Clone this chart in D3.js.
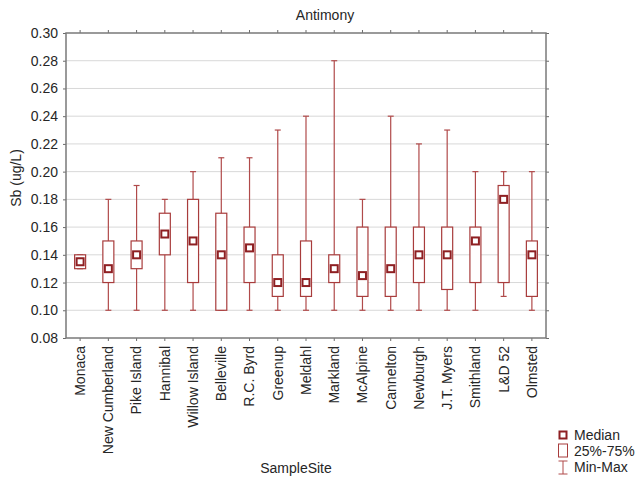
<!DOCTYPE html>
<html>
<head>
<meta charset="utf-8">
<script src="https://cdn.jsdelivr.net/npm/d3@7"></script>
<style>
  body { margin: 0; background: #fff; }
  text { font-family: "Liberation Sans", Arial, sans-serif; fill: #262626; }
</style>
</head>
<body>
<svg id="chart" width="635" height="480"></svg>
<script>
const sites = ["Monaca","New Cumberland","Pike Island","Hannibal","Willow Island","Belleville","R.C. Byrd","Greenup","Meldahl","Markland","McAlpine","Cannelton","Newburgh","J.T. Myers","Smithland","L&D 52","Olmsted"];
const medians = [0.135,0.13,0.14,0.155,0.15,0.14,0.145,0.12,0.12,0.13,0.125,0.13,0.14,0.14,0.15,0.18,0.14];
const q1s     = [0.13,0.12,0.13,0.14,0.12,0.10,0.12,0.11,0.11,0.12,0.11,0.11,0.12,0.115,0.12,0.12,0.11];
const q3s     = [0.14,0.15,0.15,0.17,0.18,0.17,0.16,0.14,0.15,0.14,0.16,0.16,0.16,0.16,0.16,0.19,0.15];
const mins    = [0.13,0.10,0.10,0.10,0.10,0.10,0.10,0.10,0.10,0.10,0.10,0.10,0.10,0.10,0.10,0.11,0.10];
const maxs    = [0.14,0.18,0.19,0.18,0.20,0.21,0.21,0.23,0.24,0.28,0.18,0.24,0.22,0.23,0.20,0.20,0.20];
const yTicks  = [0.08,0.10,0.12,0.14,0.16,0.18,0.20,0.22,0.24,0.26,0.28,0.30];
const legendLabels = ["Median","25%-75%","Min-Max"];

const data = sites.map((s,i)=>({site:s, med:medians[i], q1:q1s[i], q3:q3s[i], min:mins[i], max:maxs[i]}));

const svg = d3.select("#chart");
const L = 66, R = 546, T = 33, B = 338;
const fs = "14px";
const whiskerColor = "#b04a4a";
const boxColor = "#a83c3c";
const medColor = "#8e1f22";

const x = d3.scaleBand().domain(sites).range([L, R]).paddingInner(0).paddingOuter(0);
const y = d3.scaleLinear().domain([0.08, 0.30]).range([B, T]);

// gridlines
svg.append("g").selectAll("line").data(yTicks.slice(1, -1)).join("line")
  .attr("x1", L).attr("x2", R)
  .attr("y1", d => y(d)).attr("y2", d => y(d))
  .attr("stroke", "#d8d8d8").attr("stroke-width", 1);

// axes
const axisColor = "#6a6a6a";
function styleAxis(g, showText) {
  g.select(".domain").remove();
  g.selectAll(".tick line").attr("stroke", axisColor);
  g.selectAll(".tick text").style("font-size", fs).attr("fill", "#262626");
  if (!showText) g.selectAll(".tick text").remove();
}
const yAxis = svg.append("g").attr("transform", `translate(${L},0)`)
  .call(d3.axisLeft(y).tickValues(yTicks).tickFormat(d3.format(".2f")).tickSize(3).tickPadding(5));
styleAxis(yAxis, true);
const yAxisR = svg.append("g").attr("transform", `translate(${R},0)`)
  .call(d3.axisRight(y).tickValues(yTicks).tickSize(3));
styleAxis(yAxisR, false);
const xAxis = svg.append("g").attr("transform", `translate(0,${B})`)
  .call(d3.axisBottom(x).tickSize(3).tickPadding(6));
styleAxis(xAxis, true);
xAxis.selectAll(".tick text")
  .attr("transform", "rotate(-90)")
  .attr("text-anchor", "end")
  .attr("x", -8).attr("y", 0).attr("dy", "0.35em");
const xAxisT = svg.append("g").attr("transform", `translate(0,${T})`)
  .call(d3.axisTop(x).tickSize(3));
styleAxis(xAxisT, false);

// frame
svg.append("rect").attr("x", L).attr("y", T).attr("width", R - L).attr("height", B - T)
  .attr("fill", "none").attr("stroke", "#7a7a7a").attr("stroke-width", 1.5);

// boxes
const bw = 11, cap = 4;
const g = svg.append("g").selectAll("g").data(data).join("g")
  .attr("transform", d => `translate(${x(d.site) + x.bandwidth() / 2},0)`);
g.append("line").attr("x1", 0).attr("x2", 0)
  .attr("y1", d => y(d.max)).attr("y2", d => y(d.min))
  .attr("stroke", whiskerColor).attr("stroke-width", 1.2);
g.append("line").attr("x1", -cap / 2 - 1).attr("x2", cap / 2 + 1)
  .attr("y1", d => y(d.max)).attr("y2", d => y(d.max))
  .attr("stroke", whiskerColor).attr("stroke-width", 1.2);
g.append("line").attr("x1", -cap / 2 - 1).attr("x2", cap / 2 + 1)
  .attr("y1", d => y(d.min)).attr("y2", d => y(d.min))
  .attr("stroke", whiskerColor).attr("stroke-width", 1.2);
g.append("rect").attr("x", -bw / 2).attr("width", bw)
  .attr("y", d => y(d.q3)).attr("height", d => y(d.q1) - y(d.q3))
  .attr("fill", "#fff").attr("stroke", boxColor).attr("stroke-width", 1.2);
g.append("rect").attr("x", -3.5).attr("width", 7)
  .attr("y", d => y(d.med) - 3.5).attr("height", 7)
  .attr("fill", "#fff").attr("stroke", medColor).attr("stroke-width", 2);

// titles
svg.append("text").attr("x", 325).attr("y", 20).attr("text-anchor", "middle")
  .style("font-size", fs).text("Antimony");
svg.append("text").attr("transform", "translate(21,178) rotate(-90)").attr("text-anchor", "middle")
  .style("font-size", fs).text("Sb (ug/L)");
svg.append("text").attr("x", 296).attr("y", 473).attr("text-anchor", "middle")
  .style("font-size", fs).text("SampleSite");

// legend
const lg = svg.append("g");
const lx = 563;
lg.append("rect").attr("x", lx - 3.5).attr("y", 435 - 3.5).attr("width", 7).attr("height", 7)
  .attr("fill", "#fff").attr("stroke", medColor).attr("stroke-width", 2);
lg.append("rect").attr("x", lx - 4.5).attr("y", 444).attr("width", 9).attr("height", 13)
  .attr("fill", "#fff").attr("stroke", boxColor).attr("stroke-width", 1);
lg.append("line").attr("x1", lx).attr("x2", lx).attr("y1", 461).attr("y2", 474).attr("stroke", whiskerColor);
lg.append("line").attr("x1", lx - 4.5).attr("x2", lx + 4.5).attr("y1", 461).attr("y2", 461).attr("stroke", whiskerColor);
lg.append("line").attr("x1", lx - 4.5).attr("x2", lx + 4.5).attr("y1", 474).attr("y2", 474).attr("stroke", whiskerColor);
lg.selectAll("text").data(legendLabels).join("text")
  .attr("x", 574).attr("y", (d, i) => 435 + i * 16).attr("dy", "0.35em")
  .style("font-size", fs).text(d => d);
</script>
</body>
</html>
